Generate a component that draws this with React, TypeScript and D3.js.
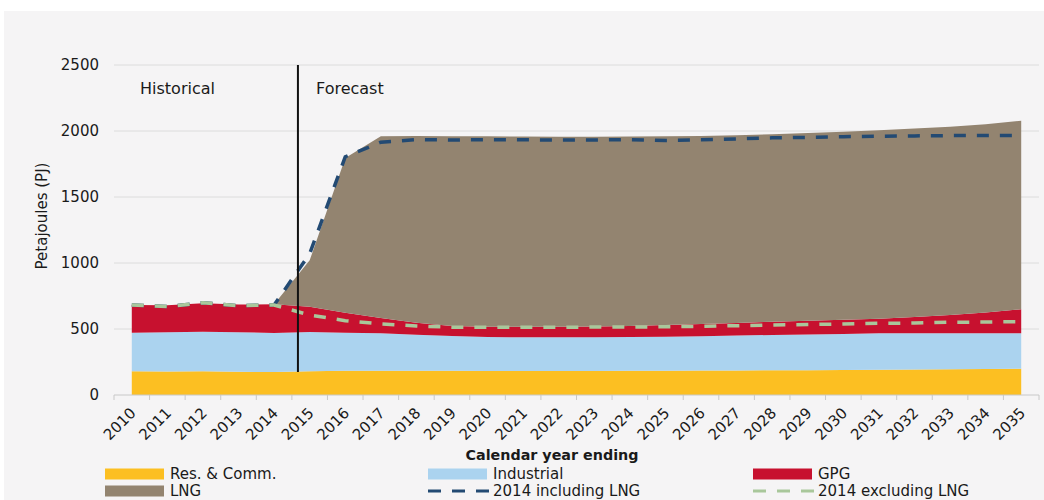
import React from 'react';
import * as d3 from 'd3';

const years = ['2010','2011','2012','2013','2014','2015','2016','2017','2018','2019','2020','2021','2022','2023','2024','2025','2026','2027','2028','2029','2030','2031','2032','2033','2034','2035'];
const resComm = [180,178,180,176,174,180,183,184,184,183,182,182,182,182,183,184,185,186,187,188,189,191,193,195,197,199];
const industrial = [292,298,300,299,296,297,289,283,273,264,258,255,255,255,256,258,261,264,268,271,274,276,274,272,270,268];
const gpg = [210,204,215,210,218,192,151,116,91,76,77,80,80,81,83,88,91,95,100,103,107,111,123,139,158,182];
const lng = [0,0,0,0,0,351,1172,1377,1414,1437,1443,1441,1439,1438,1436,1430,1426,1423,1421,1423,1425,1428,1428,1427,1427,1429];
const incl2014 = [682,670,699,677,682,1070,1805,1915,1935,1932,1935,1933,1932,1932,1935,1928,1933,1940,1948,1952,1957,1960,1963,1965,1965,1967];
const excl2014 = [682,670,699,677,682,606,563,538,523,513,513,513,513,515,515,517,520,525,530,534,538,543,545,551,553,555];
const yTicks = [0, 500, 1000, 1500, 2000, 2500];
const seriesKeys = ['res', 'ind', 'gpg', 'lng'];
const seriesNames = ['Res. & Comm.', 'Industrial', 'GPG', 'LNG'];
const lineNames = ['2014 including LNG', '2014 excluding LNG'];

const COLORS: Record<string, string> = {
  res: '#fcbf22',
  ind: '#abd3ef',
  gpg: '#c7112f',
  lng: '#938470',
};
const BLUE = '#234a73';
const GREEN = '#a9c79b';
const FONT = '"DejaVu Sans", "Liberation Sans", Arial, sans-serif';

export default function App() {
  const W = 1044, H = 500;
  const x = d3.scaleBand<string>().domain(years).range([114, 1039]);
  const cx = (i: number) => (x(years[i]) as number) + x.bandwidth() / 2;
  const y = d3.scaleLinear().domain([0, 2500]).range([395, 65]);

  const rows = years.map((yr, i) => ({ i, res: resComm[i], ind: industrial[i], gpg: gpg[i], lng: lng[i] }));
  const stacked = d3.stack<any>().keys(seriesKeys)(rows);
  const area = d3.area<any>()
    .x((d) => cx(d.data.i))
    .y0((d) => y(d[0]))
    .y1((d) => y(d[1]));
  const line = d3.line<number>()
    .x((_, i) => cx(i))
    .y((d) => y(d));

  const forecastX = cx(4) + 0.67 * x.step();
  const tickBounds = years.map((yr) => x(yr) as number).concat([x.range()[1]]);

  return (
    <svg width={W} height={H} style={{ position: 'absolute', left: 0, top: 0, fontFamily: FONT }}>
      <rect x={0} y={0} width={W} height={H} fill="#ffffff" />
      <rect x={4} y={11} width={W - 4} height={H - 11} fill="#f5f4f5" />

      {yTicks.filter((t) => t > 0).map((t) => (
        <line key={t} x1={x.range()[0]} x2={x.range()[1]} y1={y(t)} y2={y(t)} stroke="#dcdcdc" strokeWidth={1} />
      ))}

      {stacked.map((s) => (
        <path key={s.key} d={area(s) as string} fill={COLORS[s.key]} />
      ))}

      <path d={line(incl2014) as string} fill="none" stroke={BLUE} strokeWidth={3.5} strokeDasharray="12 11" />
      <path d={line(excl2014) as string} fill="none" stroke={GREEN} strokeWidth={3.5} strokeDasharray="12 11" />

      <line x1={x.range()[0]} x2={x.range()[1]} y1={y(0)} y2={y(0)} stroke="#c8c8c8" strokeWidth={1} />
      {tickBounds.map((b, i) => (
        <line key={i} x1={b} x2={b} y1={y(0)} y2={y(0) + 5} stroke="#c8c8c8" strokeWidth={1} />
      ))}

      <line x1={forecastX} x2={forecastX} y1={y(2500)} y2={y(resComm[4])} stroke="#111" strokeWidth={2} />
      <text x={140} y={94} fontSize={16} fill="#1a1a1a">Historical</text>
      <text x={316} y={94} fontSize={16} fill="#1a1a1a">Forecast</text>

      {yTicks.map((t) => (
        <text key={t} x={99} y={y(t)} dy="0.36em" textAnchor="end" fontSize={15} fill="#1a1a1a">{t}</text>
      ))}
      <text transform={`translate(47, ${(y(0) + y(2500)) / 2 - 14}) rotate(-90)`} textAnchor="middle" fontSize={15} fill="#1a1a1a">Petajoules (PJ)</text>

      {years.map((yr, i) => (
        <text key={yr} transform={`translate(${cx(i) + 5}, ${y(0) + 19}) rotate(-45)`} textAnchor="end" fontSize={15} fill="#1a1a1a">{yr}</text>
      ))}

      <text x={552} y={460} textAnchor="middle" fontSize={14.3} fontWeight="bold" fill="#1a1a1a">Calendar year ending</text>

      {/* Legend */}
      {[
        { col: 0, row: 0, kind: 'area', key: 'res', label: seriesNames[0] },
        { col: 1, row: 0, kind: 'area', key: 'ind', label: seriesNames[1] },
        { col: 2, row: 0, kind: 'area', key: 'gpg', label: seriesNames[2] },
        { col: 0, row: 1, kind: 'area', key: 'lng', label: seriesNames[3] },
        { col: 1, row: 1, kind: 'line', key: BLUE, label: lineNames[0] },
        { col: 2, row: 1, kind: 'line', key: GREEN, label: lineNames[1] },
      ].map((it, k) => {
        const colX = [105, 428, 753][it.col];
        const cy = [474, 491][it.row];
        return (
          <g key={k}>
            {it.kind === 'area' ? (
              <rect x={colX} y={cy - 5.5} width={59} height={11} fill={COLORS[it.key]} />
            ) : (
              <line x1={colX} x2={colX + 61} y1={cy} y2={cy} stroke={it.key} strokeWidth={3} strokeDasharray="13 11" />
            )}
            <text x={colX + 65} y={cy + 5} fontSize={15} fill="#1a1a1a">{it.label}</text>
          </g>
        );
      })}
    </svg>
  );
}
